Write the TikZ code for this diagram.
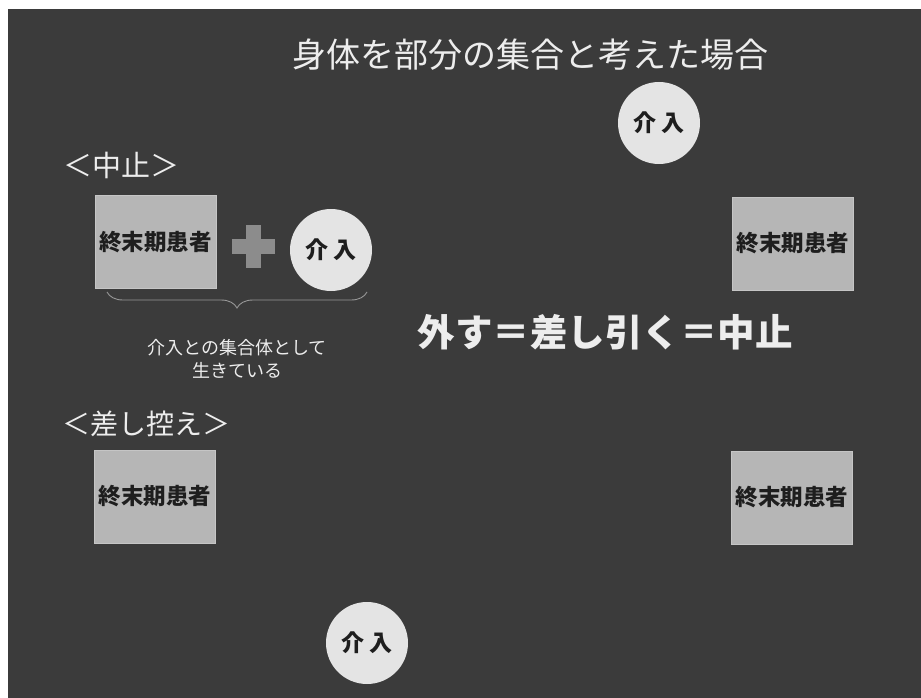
\documentclass[tikz,border=0pt]{standalone}
\usepackage{fontspec}
\setmainfont{Noto Sans CJK JP}
\usetikzlibrary{decorations.pathreplacing}
\definecolor{panel}{HTML}{3B3B3B}
\definecolor{boxfill}{HTML}{B6B6B6}
\definecolor{circfill}{HTML}{E4E4E4}
\definecolor{plusgray}{HTML}{8C8C8C}
\definecolor{inkdark}{HTML}{1E1E1E}
\definecolor{lighttext}{HTML}{EDEDED}
\begin{document}
\begin{tikzpicture}[x=1pt,y=-1pt,
  patientbox/.style={draw=boxfill!80!white,line width=1pt,fill=boxfill,minimum width=121pt,minimum height=93pt,inner sep=0pt,
     font=\fontsize{22.5}{22.5}\selectfont\bfseries,text=inkdark},
  interv/.style={circle,fill=circfill,minimum size=82pt,inner sep=0pt,
     font=\fontsize{23}{23}\selectfont\bfseries,text=inkdark},
  label/.style={text=lighttext,inner sep=0pt},
]
\useasboundingbox (0,0) rectangle (921,698);
\fill[white] (0,0) rectangle (921,698);
\fill[panel] (8,9) rectangle (921,698);

\node[label,font=\fontsize{34}{34}\selectfont] (title) at (530,55) {身体を部分の集合と考えた場合};

\node[interv] (c1) at (659,123) {介\hspace{6pt}入};

\node[label,font=\fontsize{29}{29}\selectfont] (chushi) at (121,165) {＜中止＞};
\node[patientbox] (b1) at (155.5,242) {終末期患者};
\node[fill=plusgray,minimum width=43pt,minimum height=15pt,inner sep=0pt] (plush) at (253,246) {};
\node[fill=plusgray,minimum width=15pt,minimum height=43pt,inner sep=0pt] (plusv) at (253,246) {};
\node[interv] (c2) at (331,250) {介\hspace{6pt}入};

\coordinate (bl) at (107,292);
\coordinate (br) at (367,292);
\draw[plusgray!90!white,line width=0.9pt,decorate,decoration={brace,mirror,amplitude=16pt}] (bl) -- (br) coordinate[midway] (bm);
\node[label,font=\fontsize{18}{23}\selectfont,align=center] (note) at (237,359) {介入との集合体として\\生きている};

\node[patientbox] (b2) at (793,243.5) {終末期患者};

\node[label,font=\fontsize{37.5}{37.5}\selectfont\bfseries] (eq) at (605,332) {外す＝差し引く＝中止};

\node[label,font=\fontsize{28}{28}\selectfont] (sashi) at (146,424) {＜差し控え＞};
\node[patientbox] (b3) at (155,496.5) {終末期患者};
\node[patientbox] (b4) at (792,497.5) {終末期患者};

\node[interv] (c3) at (367,643) {介\hspace{6pt}入};
\end{tikzpicture}
\end{document}
